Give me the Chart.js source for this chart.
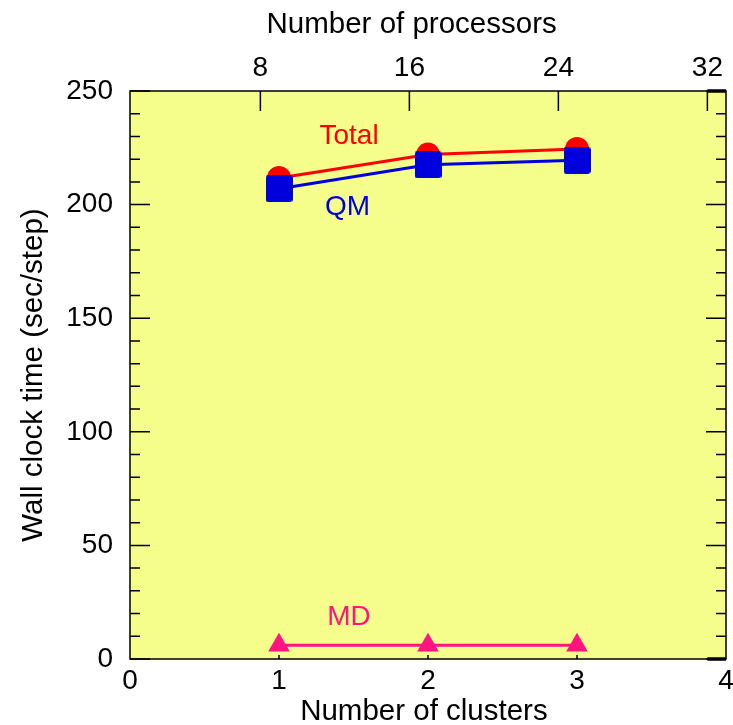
<!DOCTYPE html>
<html>
<head>
<meta charset="utf-8">
<script src="https://cdn.jsdelivr.net/npm/chart.js@4.4.1/dist/chart.umd.min.js"></script>
<style>
  body { margin: 0; background: #fff; }
</style>
</head>
<body>
<canvas id="chart" width="733" height="725"></canvas>
<script>
const clusters = [1, 2, 3];
const totalTime = [211.7, 222, 224.5];
const qmTime = [207, 217.5, 219.5];
const mdTime = [6, 6, 6];
const processorTicks = [8, 16, 24, 32];
const seriesNames = ['Total', 'QM', 'MD'];

const FONT = '"Liberation Sans", Arial, Helvetica, sans-serif';
const RED = '#ff0000';
const BLUE = '#0000dc';
const PINK = '#ff1480';

const toPoints = ys => clusters.map((x, i) => ({ x: x, y: ys[i] }));

// slightly rounded square marker for QM
function roundedSquare(size, r, color) {
  const c = document.createElement('canvas');
  c.width = size; c.height = size;
  const g = c.getContext('2d');
  g.fillStyle = color;
  g.beginPath();
  g.roundRect(0, 0, size, size, r);
  g.fill();
  return c;
}

// background, frame and inward ticks
const framePlugin = {
  id: 'frame',
  beforeDatasetsDraw(chart) {
    const { ctx, chartArea: a, scales } = chart;
    ctx.save();
    ctx.fillStyle = '#f5fd8b';
    ctx.fillRect(a.left, a.top, a.right - a.left, a.bottom - a.top);

    ctx.strokeStyle = '#000';
    ctx.lineWidth = 1.5;
    ctx.beginPath();
    for (let v = 0; v <= 250; v += 10) {
      const y = scales.y.getPixelForValue(v);
      const len = v % 50 === 0 ? 20 : 10;
      ctx.moveTo(a.left, y); ctx.lineTo(a.left + len, y);
      ctx.moveTo(a.right, y); ctx.lineTo(a.right - len, y);
    }
    processorTicks.forEach(p => {
      const x = scales.x2.getPixelForValue(p);
      ctx.moveTo(x, a.top); ctx.lineTo(x, a.top + 20);
    });
    clusters.forEach(c => {
      const x = scales.x.getPixelForValue(c);
      ctx.moveTo(x, a.bottom); ctx.lineTo(x, a.bottom - 4);
    });
    ctx.stroke();

    ctx.strokeRect(a.left, a.top, a.right - a.left, a.bottom - a.top);

    // heavier corner segments
    const x32 = scales.x2.getPixelForValue(processorTicks[processorTicks.length - 1]);
    ctx.lineWidth = 3.5;
    ctx.beginPath();
    ctx.moveTo(x32, a.top); ctx.lineTo(a.right, a.top);
    ctx.moveTo(x32, a.bottom); ctx.lineTo(a.right, a.bottom);
    ctx.stroke();
    ctx.restore();
  },
  afterDatasetsDraw(chart) {
    const { ctx, scales } = chart;
    const notes = [
      { text: seriesNames[0], x: 1.47, y: 230, color: RED },
      { text: seriesNames[1], x: 1.46, y: 199, color: BLUE },
      { text: seriesNames[2], x: 1.47, y: 18.5, color: PINK }
    ];
    ctx.save();
    ctx.font = '28px ' + FONT;
    ctx.textAlign = 'center';
    ctx.textBaseline = 'middle';
    notes.forEach(n => {
      ctx.fillStyle = n.color;
      ctx.fillText(n.text, scales.x.getPixelForValue(n.x), scales.y.getPixelForValue(n.y));
    });
    ctx.restore();
  }
};

const tickFont = { family: FONT, size: 28, lineHeight: 1 };
const titleFont = { family: FONT, size: 29.5, lineHeight: 1 };

new Chart(document.getElementById('chart'), {
  type: 'line',
  data: {
    datasets: [
      {
        label: 'QM',
        data: toPoints(qmTime),
        borderColor: BLUE,
        backgroundColor: BLUE,
        borderWidth: 3,
        pointStyle: roundedSquare(27, 3, BLUE),
        pointRadius: 13.5,
        pointBorderWidth: 0
      },
      {
        label: 'Total',
        data: toPoints(totalTime),
        borderColor: RED,
        backgroundColor: RED,
        borderWidth: 3,
        pointStyle: 'circle',
        pointRadius: 12,
        pointBorderWidth: 0
      },
      {
        label: 'MD',
        data: toPoints(mdTime),
        borderColor: PINK,
        backgroundColor: PINK,
        borderWidth: 3,
        pointStyle: 'triangle',
        pointRadius: 12.5,
        pointBorderWidth: 0
      }
    ]
  },
  options: {
    responsive: false,
    animation: false,
    layout: { autoPadding: false, padding: { left: 0, right: 7, top: 0, bottom: 0 } },
    plugins: {
      legend: { display: false },
      tooltip: { enabled: false }
    },
    scales: {
      x: {
        type: 'linear',
        position: 'bottom',
        min: 0,
        max: 4,
        grid: { display: false, drawTicks: false },
        border: { display: false },
        ticks: { stepSize: 1, color: '#000', font: tickFont, padding: 8, maxRotation: 0 },
        title: { display: true, text: 'Number of clusters\u00a0', color: '#000', font: titleFont, padding: { top: 0, bottom: -2 } },
        afterFit(scale) { scale.height = 66; scale.paddingRight = 0; scale.paddingLeft = 0; }
      },
      x2: {
        type: 'linear',
        position: 'top',
        min: 1,
        max: 33,
        grid: { display: false, drawTicks: false },
        border: { display: false },
        afterBuildTicks(scale) { scale.ticks = processorTicks.map(v => ({ value: v })); },
        ticks: { color: '#000', font: tickFont, padding: 9, maxRotation: 0 },
        title: { display: true, text: 'Number of processors\u00a0\u00a0\u00a0\u00a0', color: '#000', font: titleFont, padding: { top: 10.5, bottom: 0 } },
        afterFit(scale) { scale.height = 91; scale.paddingRight = 0; scale.paddingLeft = 0; }
      },
      y: {
        min: 0,
        max: 250,
        grid: { display: false, drawTicks: false },
        border: { display: false },
        ticks: { stepSize: 50, color: '#000', font: tickFont, padding: 17 },
        title: { display: true, text: 'Wall clock time (sec/step)', color: '#000', font: titleFont, padding: { top: 19, bottom: 0 } },
        afterFit(scale) { scale.width = 130; scale.paddingTop = 0; scale.paddingBottom = 0; }
      }
    }
  },
  plugins: [framePlugin]
});
</script>
</body>
</html>
